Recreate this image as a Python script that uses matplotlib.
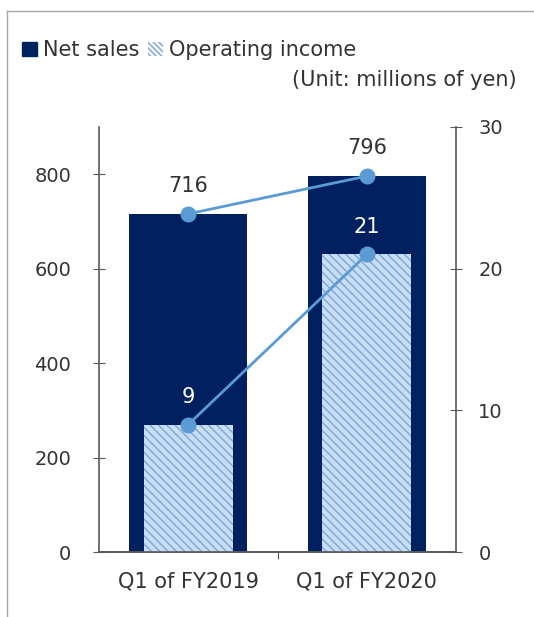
import matplotlib.pyplot as plt
from matplotlib.patches import Patch
from matplotlib.lines import Line2D

quarters = ["Q1 of FY2019", "Q1 of FY2020"]
net_sales = [716, 796]
operating_income = [9, 21]

navy = "#002060"
line_blue = "#5B9BD5"
hatch_face = "#CADEF3"
hatch_line = "#86AEDD"
text_col = "#333333"
hatch = "\\" * 4

plt.rcParams["font.family"] = ["DejaVu Sans"]
plt.rcParams["hatch.linewidth"] = 1.2

fig = plt.figure(figsize=(5.34, 6.17), dpi=100)
ax = fig.add_axes([0.1854, 0.1053, 0.6686, 0.6889])
ax2 = ax.twinx()

x = range(len(quarters))

# net sales bars + line on the left axis
ax.bar(x, net_sales, width=0.66, color=navy, zorder=2)
ax.plot(x, net_sales, color=line_blue, lw=2, marker="o", ms=10.5, zorder=4)
for xi, v in zip(x, net_sales):
    ax.annotate(str(v), (xi, v), xytext=(0, 20), textcoords="offset points",
                ha="center", va="center", fontsize=15, color=text_col)

# operating income bars + line on the right axis
ax2.bar(x, operating_income, width=0.5, facecolor=hatch_face, edgecolor=hatch_line,
        hatch=hatch, linewidth=0, zorder=2)
ax2.plot(x, operating_income, color=line_blue, lw=2, marker="o", ms=10.5, zorder=4)
for xi, v in zip(x, operating_income):
    ax2.annotate(str(v), (xi, v), xytext=(0, 20), textcoords="offset points",
                 ha="center", va="center", fontsize=15, color="white")

ax.set_xlim(-0.5, 1.5)
ax.set_ylim(0, 900)
ax2.set_ylim(0, 30)
ax.set_yticks([0, 200, 400, 600, 800])
ax2.set_yticks([0, 10, 20, 30])
ax.set_xticks([0.5])
ax.set_xticklabels([""])
for xi, q in zip(x, quarters):
    ax.text(xi, -42, q, ha="center", va="top", fontsize=15, color=text_col)

for a in (ax, ax2):
    for s in a.spines.values():
        s.set_color("#595959")
        s.set_linewidth(1.2)
    a.spines["top"].set_visible(False)
ax.spines["right"].set_visible(False)
ax2.spines["left"].set_visible(False)
ax.tick_params(axis="y", direction="inout", length=8, colors="#595959",
               labelcolor=text_col, labelsize=14, pad=16)
ax2.tick_params(axis="y", direction="inout", length=8, colors="#595959",
                labelcolor=text_col, labelsize=14, pad=12)
ax.tick_params(axis="x", direction="out", length=5, colors="#595959")

# legend and unit note
handles = [Patch(facecolor=navy, edgecolor=navy),
           Patch(facecolor="white", edgecolor=hatch_line, hatch="\\" * 6, linewidth=0)]
fig.legend(handles, ["Net sales", "Operating income"], loc="upper left",
           bbox_to_anchor=(0.007, 0.965), ncol=2, frameon=False, fontsize=15,
           handlelength=0.7, handleheight=0.7, handletextpad=0.3,
           columnspacing=0.4, labelcolor=text_col)
fig.text(0.968, 0.870, "(Unit: millions of yen)", ha="right", va="center",
         fontsize=15, color=text_col)

# outer frame lines
fig.add_artist(Line2D([0.0131, 0.0131], [0.0, 0.982], transform=fig.transFigure,
                      color="#a6a6a6", lw=1))
fig.add_artist(Line2D([0.0131, 1.0], [0.982, 0.982], transform=fig.transFigure,
                      color="#a6a6a6", lw=1))

fig.savefig("out.png", dpi=100)
